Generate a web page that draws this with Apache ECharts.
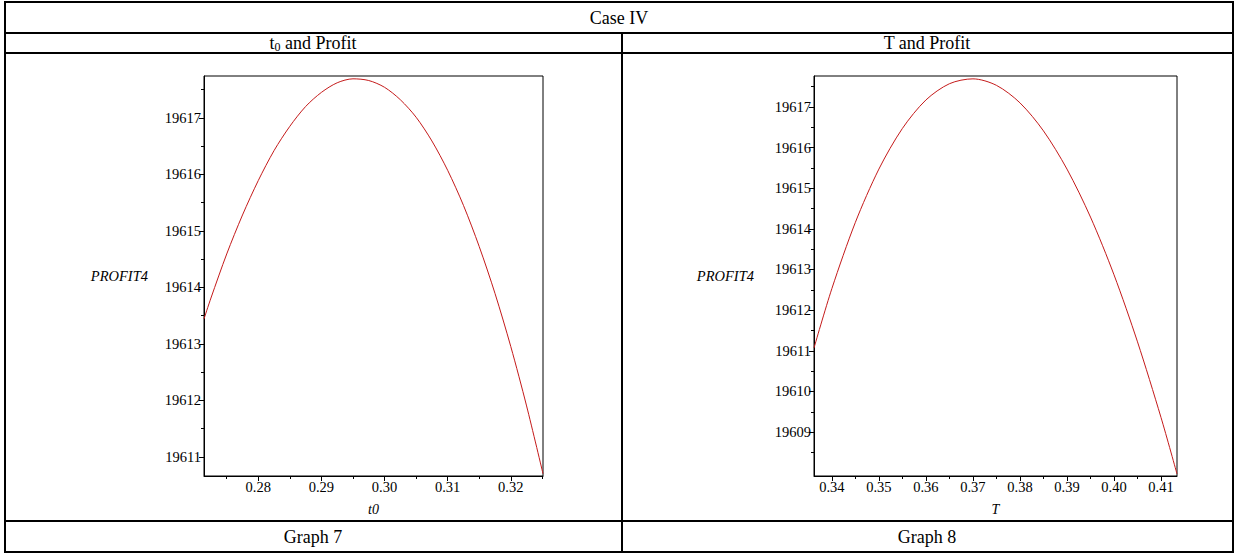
<!DOCTYPE html>
<html>
<head>
<meta charset="utf-8">
<script src="https://cdn.jsdelivr.net/npm/echarts@6/dist/echarts.min.js"></script>
<style>
html,body{margin:0;padding:0;background:#fff;}
#chart{width:1238px;height:553px;}
</style>
</head>
<body>
<div id="chart"></div>
<script>
// ---- Graph 7: t0 vs PROFIT4 ----
const t0Values = [0.2714, 0.2725, 0.275, 0.2775, 0.28, 0.2825, 0.285, 0.2875, 0.29, 0.2925, 0.295, 0.2975, 0.30, 0.3025, 0.305, 0.3075, 0.31, 0.3125, 0.315, 0.3175, 0.32, 0.3225, 0.3251];
const profitVsT0 = [19613.44, 19613.81, 19614.59, 19615.28, 19615.89, 19616.42, 19616.85, 19617.20, 19617.45, 19617.62, 19617.69, 19617.66, 19617.54, 19617.32, 19617.01, 19616.59, 19616.07, 19615.45, 19614.72, 19613.89, 19612.95, 19611.90, 19610.70];
const t0TickLabels = [0.28, 0.29, 0.30, 0.31, 0.32];
const t0MinorTicks = [0.275, 0.285, 0.295, 0.305, 0.315, 0.325];
const profitLeftTickLabels = [19611, 19612, 19613, 19614, 19615, 19616, 19617];
const profitLeftMinorTicks = [19611.5, 19612.5, 19613.5, 19614.5, 19615.5, 19616.5, 19617.5];

// ---- Graph 8: T vs PROFIT4 ----
const TValues = [0.3362, 0.34, 0.345, 0.35, 0.355, 0.36, 0.365, 0.37, 0.375, 0.38, 0.385, 0.39, 0.395, 0.40, 0.405, 0.41, 0.4134];
const profitVsT = [19611.07, 19612.53, 19614.16, 19615.47, 19616.47, 19617.17, 19617.57, 19617.69, 19617.53, 19617.10, 19616.41, 19615.47, 19614.29, 19612.87, 19611.22, 19609.36, 19607.97];
const TTickLabels = [0.34, 0.35, 0.36, 0.37, 0.38, 0.39, 0.40, 0.41];
const TMinorTicks = [0.345, 0.355, 0.365, 0.375, 0.385, 0.395, 0.405];
const profitRightTickLabels = [19609, 19610, 19611, 19612, 19613, 19614, 19615, 19616, 19617];
const profitRightMinorTicks = [19608.5, 19609.5, 19610.5, 19611.5, 19612.5, 19613.5, 19614.5, 19615.5, 19616.5, 19617.5];

// ---- texts ----
const caseTitle = 'Case IV';
const leftHeader = ['t', '0', ' and Profit'];
const rightHeader = 'T and Profit';
const leftFooter = 'Graph 7';
const rightFooter = 'Graph 8';
const yName = 'PROFIT4';
const xNameLeft = 't0';
const xNameRight = 'T';

const chart = echarts.init(document.getElementById('chart'), null, {renderer: 'svg'});
const FONT = '"Liberation Serif", "Times New Roman", serif';
const TICK_FONT = 14.5;

function majorX(gridIndex, min, max, ticks, name) {
  return {
    type: 'value', gridIndex, min, max, position: 'bottom',
    name, nameLocation: 'middle', nameGap: 26,
    nameTextStyle: {fontFamily: FONT, fontStyle: 'italic', fontSize: 14, color: '#000'},
    axisLine: {show: true, onZero: false, lineStyle: {color: '#000', width: 1}},
    axisTick: {show: true, inside: false, length: 5, customValues: ticks, lineStyle: {color: '#000'}},
    axisLabel: {show: true, customValues: ticks, margin: 3, fontFamily: FONT, fontSize: TICK_FONT, color: '#000',
      formatter: v => v.toFixed(2)},
    splitLine: {show: false}
  };
}
function minorX(gridIndex, min, max, ticks) {
  return {
    type: 'value', gridIndex, min, max, position: 'bottom',
    axisLine: {show: false, onZero: false},
    axisTick: {show: true, inside: false, length: 3, customValues: ticks, lineStyle: {color: '#000'}},
    axisLabel: {show: false},
    splitLine: {show: false}
  };
}
function majorY(gridIndex, min, max, ticks, gap) {
  return {
    type: 'value', gridIndex, min, max, position: 'left',
    name: yName, nameLocation: 'middle', nameRotate: 0, nameGap: gap,
    nameTextStyle: {fontFamily: FONT, fontStyle: 'italic', fontSize: 14.5, color: '#000', align: 'right'},
    axisLine: {show: true, onZero: false, lineStyle: {color: '#000', width: 1}},
    axisTick: {show: true, inside: false, length: 5, customValues: ticks, lineStyle: {color: '#000'}},
    axisLabel: {show: true, customValues: ticks, margin: 3, fontFamily: FONT, fontSize: TICK_FONT, color: '#000',
      formatter: v => String(Math.round(v))},
    splitLine: {show: false}
  };
}
function minorY(gridIndex, min, max, ticks) {
  return {
    type: 'value', gridIndex, min, max, position: 'left',
    axisLine: {show: false, onZero: false},
    axisTick: {show: true, inside: false, length: 3, customValues: ticks, lineStyle: {color: '#000'}},
    axisLabel: {show: false},
    splitLine: {show: false}
  };
}

const L = {xmin: 0.2714, xmax: 0.3251, ymin: 19610.66, ymax: 19617.74};
const R = {xmin: 0.3362, xmax: 0.4134, ymin: 19607.92, ymax: 19617.76};

const lineStyle = {stroke: '#000', lineWidth: 2};
function hline(y, x1, x2) { return {type: 'line', silent: true, shape: {x1, y1: y, x2, y2: y}, style: lineStyle}; }
function vline(x, y1, y2) { return {type: 'line', silent: true, shape: {x1: x, y1, x2: x, y2}, style: lineStyle}; }
function label(text, x, y) {
  return {type: 'text', silent: true, x, y, style: {text, fontFamily: FONT, fontSize: 18, fill: '#000', align: 'center', verticalAlign: 'middle'}};
}

chart.setOption({
  backgroundColor: '#fff',
  animation: false,
  grid: [
    {left: 204, top: 76, width: 339, height: 400, show: true, borderColor: '#000', borderWidth: 1, backgroundColor: 'transparent'},
    {left: 814, top: 76, width: 363, height: 400, show: true, borderColor: '#000', borderWidth: 1, backgroundColor: 'transparent'}
  ],
  xAxis: [
    majorX(0, L.xmin, L.xmax, t0TickLabels, xNameLeft),
    minorX(0, L.xmin, L.xmax, t0MinorTicks),
    majorX(1, R.xmin, R.xmax, TTickLabels, xNameRight),
    minorX(1, R.xmin, R.xmax, TMinorTicks)
  ],
  yAxis: [
    majorY(0, L.ymin, L.ymax, profitLeftTickLabels, 56),
    minorY(0, L.ymin, L.ymax, profitLeftMinorTicks),
    majorY(1, R.ymin, R.ymax, profitRightTickLabels, 60),
    minorY(1, R.ymin, R.ymax, profitRightMinorTicks)
  ],
  series: [
    {type: 'line', xAxisIndex: 0, yAxisIndex: 0, showSymbol: false, smooth: 0.3,
      lineStyle: {color: '#c41a1a', width: 1}, data: t0Values.map((x, i) => [x, profitVsT0[i]])},
    {type: 'line', xAxisIndex: 2, yAxisIndex: 2, showSymbol: false, smooth: 0.3,
      lineStyle: {color: '#c41a1a', width: 1}, data: TValues.map((x, i) => [x, profitVsT[i]])}
  ],
  graphic: [
    hline(2, 4, 1234),
    hline(33, 4, 1234),
    hline(53, 4, 1234),
    hline(521, 4, 1234),
    hline(552, 4, 1234),
    vline(5, 2, 552),
    vline(1233, 2, 552),
    vline(622, 33, 552),
    label(caseTitle, 619, 18),
    {type: 'text', silent: true, x: 313, y: 43, style: {
      text: '{a|' + leftHeader[0] + '}{s|' + leftHeader[1] + '}{a|' + leftHeader[2] + '}',
      align: 'center', verticalAlign: 'middle', fill: '#000',
      rich: {a: {fontFamily: FONT, fontSize: 18, fill: '#000'}, s: {fontFamily: FONT, fontSize: 12, fill: '#000', verticalAlign: 'bottom', padding: [8, 0, 0, 0]}}
    }},
    label(rightHeader, 927, 43),
    label(leftFooter, 313, 537),
    label(rightFooter, 927, 537)
  ]
});
</script>
</body>
</html>
